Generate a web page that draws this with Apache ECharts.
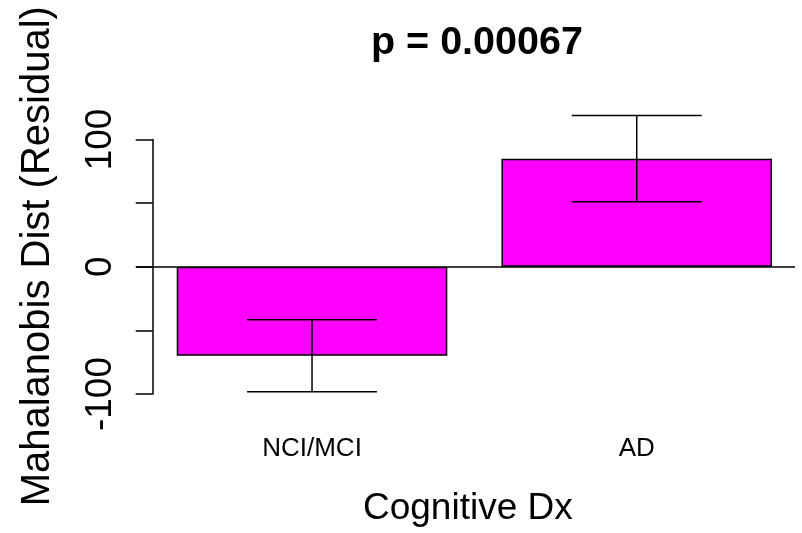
<!DOCTYPE html>
<html><head><meta charset="utf-8">
<script src="https://cdn.jsdelivr.net/npm/echarts@6/dist/echarts.min.js"></script>
<style>html,body{margin:0;padding:0;background:#fff}#c{width:802px;height:533px}</style>
</head><body><div id="c"></div>
<script>
// ---- data ----
const categories = ['NCI/MCI', 'AD'];
const means = [-70, 84.8];
const errLow = [-98.2, 51];
const errHigh = [-41.7, 118.7];
const yTicks = [-100, -50, 0, 50, 100];
const yTickLabels = [-100, 0, 100];
const titleText = 'p = 0.00067';
const xTitle = 'Cognitive Dx';
const yTitle = 'Mahalanobis Dist (Residual)';

// ---- layout (R barplot style: width 1, space 0.2) ----
const barPos = categories.map((c, i) => 0.7 + 1.2 * i);
const FONT = '"Liberation Sans", Arial, Helvetica, sans-serif';
const BAR_PX = 270.6;
const WHISKER = 0.48;

const chart = echarts.init(document.getElementById('c'), null, {renderer: 'canvas'});
chart.setOption({
  animation: false,
  backgroundColor: '#fff',
  title: {
    text: titleText, left: 371, top: 23, padding: 0,
    textStyle: {fontSize: 39.5, fontWeight: 'bold', color: '#000', fontFamily: FONT}
  },
  grid: [
    {left: 122.6, right: 2.9, top: 107.6, bottom: 126.3},
    {left: 152.7, width: 10, top: 139.5, height: 254.5}
  ],
  xAxis: [
    {
      gridIndex: 0, type: 'value', min: 0, max: 2.5,
      axisLine: {show: false}, axisTick: {show: false}, splitLine: {show: false},
      axisLabel: {
        customValues: barPos, margin: 29, fontSize: 26, lineHeight: 26, color: '#000', fontFamily: FONT,
        formatter: (v) => { const i = barPos.findIndex(p => Math.abs(p - v) < 1e-6); return i >= 0 ? categories[i] : ''; }
      },
      name: xTitle, nameLocation: 'middle', nameGap: 84,
      nameTextStyle: {fontSize: 37, color: '#000', fontFamily: FONT, padding: [0, 0, 0, 14]}
    },
    {gridIndex: 1, type: 'value', min: 0, max: 1, show: false}
  ],
  yAxis: [
    {gridIndex: 0, type: 'value', min: -110, max: 125, show: false, splitLine: {show: false}},
    {
      gridIndex: 1, type: 'value', min: -100, max: 100, interval: 50,
      axisLine: {show: true, lineStyle: {color: '#000', width: 1.5}},
      axisTick: {show: true, inside: false, length: 17, customValues: yTicks, lineStyle: {color: '#000', width: 1.5}},
      axisLabel: {customValues: yTickLabels, rotate: 90, margin: 33, fontSize: 37, color: '#000', fontFamily: FONT},
      splitLine: {show: false},
      name: yTitle, nameLocation: 'middle', nameRotate: 90, nameGap: 95,
      nameTextStyle: {fontSize: 40, color: '#000', fontFamily: FONT, padding: [0, 0, 0, 21]}
    }
  ],
  series: [
    {
      type: 'bar', xAxisIndex: 0, yAxisIndex: 0,
      data: means.map((v, i) => [barPos[i], v]),
      barWidth: BAR_PX,
      itemStyle: {color: '#FF00FF', borderColor: '#000', borderWidth: 1.5},
      markLine: {
        silent: true, symbol: ['none', 'none'], label: {show: false},
        lineStyle: {color: '#000', width: 1.5, type: 'solid'},
        data: [[{coord: [0.05, 0]}, {coord: [2.485, 0]}]]
      }
    },
    {
      type: 'custom', xAxisIndex: 0, yAxisIndex: 0, z: 5,
      data: means.map((v, i) => [barPos[i], errLow[i], errHigh[i]]),
      renderItem: (params, api) => {
        const x = api.value(0);
        const lo = api.coord([x, api.value(1)]);
        const hi = api.coord([x, api.value(2)]);
        const half = api.size([WHISKER / 2, 0])[0];
        const st = {stroke: '#000', lineWidth: 1.5};
        return {
          type: 'group',
          children: [
            {type: 'line', shape: {x1: lo[0], y1: lo[1], x2: hi[0], y2: hi[1]}, style: st},
            {type: 'line', shape: {x1: lo[0] - half, y1: lo[1], x2: lo[0] + half, y2: lo[1]}, style: st},
            {type: 'line', shape: {x1: hi[0] - half, y1: hi[1], x2: hi[0] + half, y2: hi[1]}, style: st}
          ]
        };
      }
    }
  ]
});
</script>
</body></html>
